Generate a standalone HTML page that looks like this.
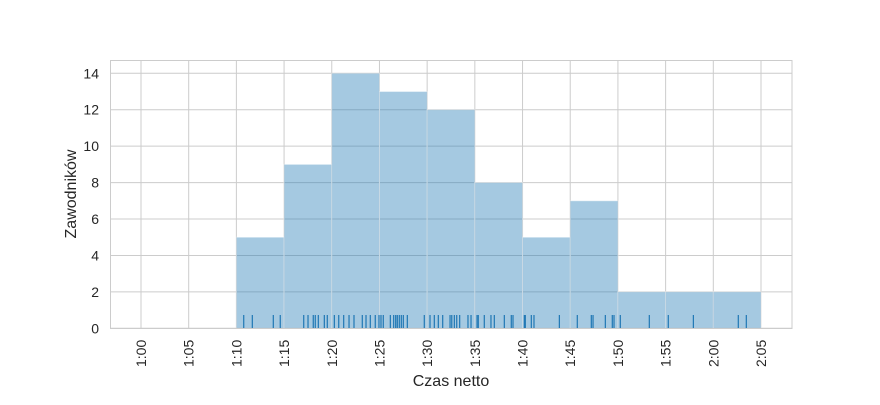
<!DOCTYPE html>
<html><head><meta charset="utf-8"><style>
html,body{margin:0;padding:0;background:#fff;}
svg text{font-family:"Liberation Sans",sans-serif;fill:#262626;}
</style></head><body>
<svg id="chart" width="880" height="400" viewBox="0 0 880 400" xmlns="http://www.w3.org/2000/svg">
<g id="grid"></g>
<g id="bars"></g>
<g id="rug"></g>
<rect x="110.5" y="60.5" width="681.5" height="268" fill="none" stroke="#cccccc" stroke-width="1"/>
<g id="xticks"></g>
<g id="yticks"></g>
<text x="451" y="386" font-size="16" text-anchor="middle">Czas netto</text>
<text transform="translate(76,194) rotate(-90)" font-size="16" text-anchor="middle">Zawodników</text>
</svg>
<script>
const binStarts = [70,75,80,85,90,95,100,105,110,115,120];
const binCounts = [5,9,14,13,12,8,5,7,2,2,2];
const binWidth = 5;
const xTickValues = [60,65,70,75,80,85,90,95,100,105,110,115,120,125];
const xTickLabels = ["1:00","1:05","1:10","1:15","1:20","1:25","1:30","1:35","1:40","1:45","1:50","1:55","2:00","2:05"];
const yTickValues = [0,2,4,6,8,10,12,14];
const rugValues = [70.77,71.67,73.87,74.60,77.06,77.51,78.06,78.27,78.59,79.22,79.53,80.27,80.73,81.25,81.81,82.33,83.20,83.59,84.04,84.56,84.95,85.16,85.40,86.14,86.49,86.70,86.87,87.08,87.29,87.50,87.92,89.70,90.30,90.75,91.17,91.63,92.40,92.58,92.85,93.10,93.41,94.28,94.60,95.23,95.36,95.99,96.69,97.04,98.09,98.82,99.00,100.19,100.29,100.92,101.20,103.86,105.74,107.21,107.39,108.68,109.41,109.59,110.25,113.29,115.28,117.91,122.62,123.46];

const NS="http://www.w3.org/2000/svg";
const x = v => 141 + (v-60)*(620/65);
const y = v => 328.3 - v*(255/14);
function mk(tag, attrs, parent){const e=document.createElementNS(NS,tag);for(const k in attrs)e.setAttribute(k,attrs[k]);parent.appendChild(e);return e;}
const grid=document.getElementById('grid'), bars=document.getElementById('bars'), rug=document.getElementById('rug');
const xt=document.getElementById('xticks'), yt=document.getElementById('yticks');
xTickValues.forEach((v,i)=>{
  const l=mk('line',{x1:x(v),x2:x(v),y1:60,y2:328,stroke:'#cccccc','stroke-width':1},grid);
  
  
  const t=mk('text',{transform:`translate(${x(v)+5},367) rotate(-90)`,'font-size':14},xt);
  t.textContent=xTickLabels[i];
  
  
});
yTickValues.forEach(v=>{
  const l=mk('line',{x1:110,x2:792,y1:y(v),y2:y(v),stroke:'#cccccc','stroke-width':1},grid);
  
  
  const t=mk('text',{x:99,y:y(v)+5,'font-size':14,'text-anchor':'end'},yt);
  t.textContent=String(v);
  
  
});
binStarts.forEach((s,i)=>{
  const r=mk('rect',{x:x(s),y:y(binCounts[i]),width:x(s+binWidth)-x(s),height:y(0)-y(binCounts[i]),fill:'rgba(31,119,180,0.4)',stroke:'rgba(255,255,255,0.4)','stroke-width':1},bars);
  
  
});
rugValues.forEach(v=>{
  const l=mk('line',{x1:x(v),x2:x(v),y1:315,y2:328,stroke:'#1f77b4','stroke-width':1.2},rug);
  
  
});
</script>
</body></html>
